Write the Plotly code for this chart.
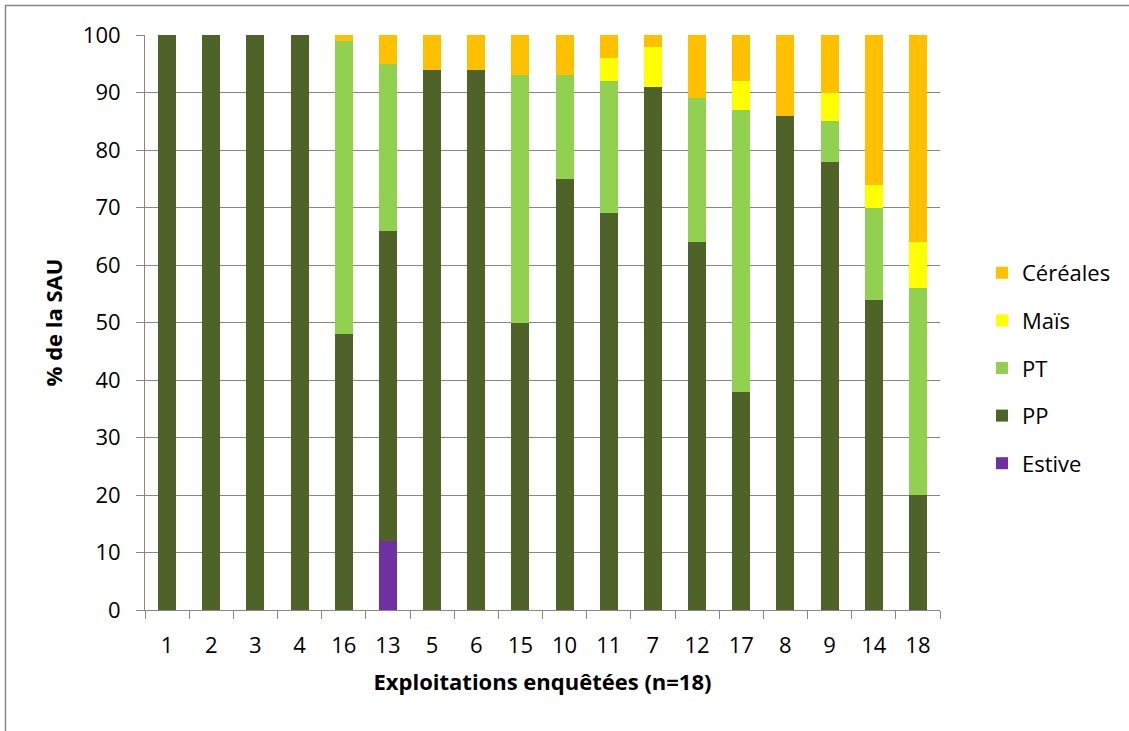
import plotly.graph_objects as go

categories = ["1", "2", "3", "4", "16", "13", "5", "6", "15", "10", "11", "7", "12", "17", "8", "9", "14", "18"]
estive   = [0, 0, 0, 0, 0, 12, 0, 0, 0, 0, 0, 0, 0, 0, 0, 0, 0, 0]
pp       = [100, 100, 100, 100, 48, 54, 94, 94, 50, 75, 69, 91, 64, 38, 86, 78, 54, 20]
pt       = [0, 0, 0, 0, 51, 29, 0, 0, 43, 18, 23, 0, 25, 49, 0, 7, 16, 36]
mais     = [0, 0, 0, 0, 0, 0, 0, 0, 0, 0, 4, 7, 0, 5, 0, 5, 4, 8]
cereales = [0, 0, 0, 0, 1, 5, 6, 6, 7, 7, 4, 2, 11, 8, 14, 10, 26, 36]

series = [
    ("Estive", estive, "#7030A0"),
    ("PP", pp, "#4F6228"),
    ("PT", pt, "#92D050"),
    ("Maïs", mais, "#FFFF00"),
    ("Céréales", cereales, "#FFC000"),
]

FONT = "Open Sans"
fig = go.Figure()
n = len(series)
for i, (name, vals, color) in enumerate(series):
    fig.add_trace(go.Bar(
        x=categories, y=vals, name=name, legendgroup=name, legendrank=n - i,
        marker=dict(color=color, line=dict(width=0)),
    ))

W, H = 1129, 731
L, R, T, B = 145, 189, 35, 121
pw, ph = W - L - R, H - T - B

# convert page pixel coords to paper coords
def px_x(p):
    return (p - L) / pw

def px_y(p):
    return (H - B - p) / ph

fig.update_layout(
    width=W, height=H,
    barmode="stack", bargap=0.59,
    margin=dict(l=L, r=R, t=T, b=B),
    plot_bgcolor="white", paper_bgcolor="white",
    font=dict(family=FONT, size=22, color="black"),
    legend=dict(
        x=px_x(982), y=px_y(252), xanchor="left", yanchor="top",
        traceorder="grouped", tracegroupgap=16,
        font=dict(family=FONT, size=22, color="black"),
        bgcolor="rgba(0,0,0,0)",
    ),
    xaxis=dict(
        type="category", showgrid=False,
        showline=True, linecolor="#868686", linewidth=1,
        ticks="outside", tickson="boundaries", ticklen=8, tickcolor="#868686",
        tickfont=dict(family=FONT, size=22), ticklabelstandoff=16,
        title=dict(text="<b>Exploitations enquêtées (n=18)</b>", font=dict(family=FONT, size=22), standoff=16),
    ),
    yaxis=dict(
        range=[0, 100], dtick=10,
        showgrid=True, gridcolor="#868686", gridwidth=1,
        showline=True, linecolor="#868686", linewidth=1,
        ticks="outside", ticklen=8, tickcolor="#868686",
        tickfont=dict(family=FONT, size=22), ticklabelstandoff=11,
        zeroline=False,
        title=dict(text="<b>% de la SAU</b>", font=dict(family=FONT, size=22), standoff=14),
    ),
    shapes=[dict(
        type="rect", xref="paper", yref="paper",
        x0=px_x(5.5), x1=px_x(1140), y0=px_y(740), y1=px_y(5.5),
        line=dict(color="#868686", width=1.5), fillcolor="rgba(0,0,0,0)", layer="below",
    )],
)

fig.write_html("out.html", config={"displayModeBar": False},
               post_script="document.body.style.margin='0';")
